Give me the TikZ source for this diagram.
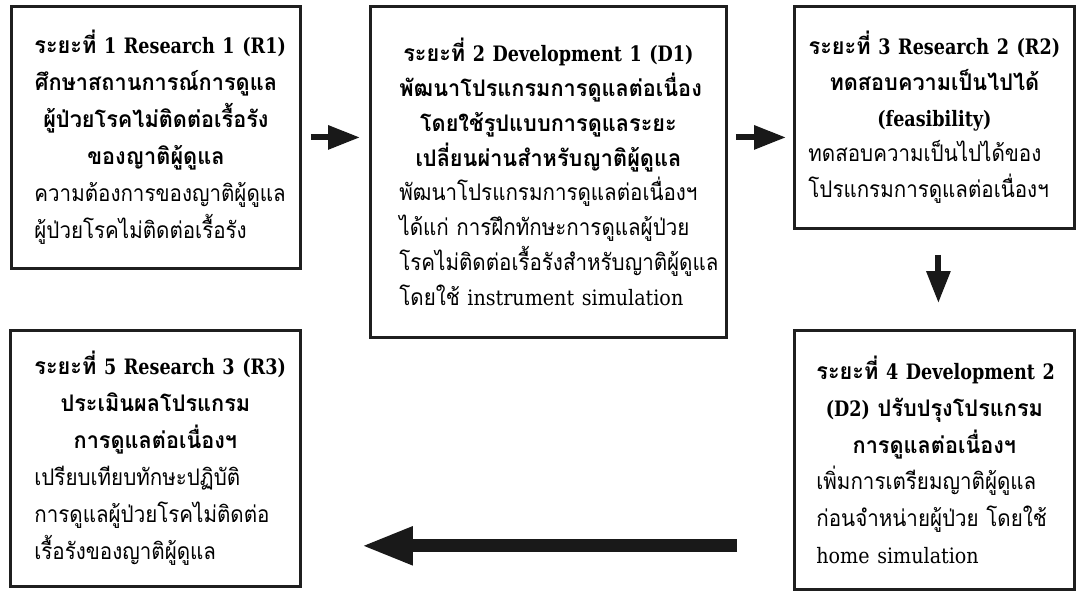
\documentclass[tikz,border=0pt]{standalone}
\usepackage{fontspec}
\setmainfont{Loma}[Script=Thai,UprightFeatures={FakeStretch=0.9},
  BoldFeatures={FakeStretch=0.95}]
\newfontfamily\enfont{DejaVu Serif Condensed}[Scale=0.93,
  BoldFeatures={FakeStretch=0.92}]
\usetikzlibrary{arrows.meta}
\tikzset{
  stage box/.style={
    draw=black!88,line width=1.6pt,anchor=north west,inner sep=0pt,
    align=center,font={\fontsize{13}{21}\selectfont}
  },
  stage arrow/.style={black!90,line width=0.12cm,
    -{Triangle[length=0.64cm,width=0.46cm]}}
}
\newcommand{\en}[1]{{\enfont #1}}
\newcommand{\hd}[1]{\mbox{\bfseries #1}}
\newcommand{\lft}[1]{\makebox[\hsize][l]{#1}}

\begin{document}
\begin{tikzpicture}
  \useasboundingbox (0,0) rectangle (21.52,-11.82);
  % top row
  \node[stage box,minimum width=5.78cm,minimum height=5.24cm,text width=4.86cm]
    (r1) at (0.20,-0.10) {\hd{ระยะที่ \en{1 Research 1 (R1)}}\\
    \hd{ศึกษาสถานการณ์การดูแล}\\
    \hd{ผู้ป่วยโรคไม่ติดต่อเรื้อรัง}\\
    \hd{ของญาติผู้ดูแล}\\
    \lft{ความต้องการของญาติผู้ดูแล}\\
    \lft{ผู้ป่วยโรคไม่ติดต่อเรื้อรัง}};
  \node[stage box,minimum width=7.12cm,minimum height=6.62cm,text width=5.96cm,
    font={\fontsize{13}{19.8}\selectfont}]
    (d1) at (7.38,-0.10) {\hd{ระยะที่ \en{2 Development 1 (D1)}}\\
    \hd{พัฒนาโปรแกรมการดูแลต่อเนื่อง}\\
    \hd{โดยใช้รูปแบบการดูแลระยะ}\\
    \hd{เปลี่ยนผ่านสำหรับญาติผู้ดูแล}\\
    \lft{พัฒนาโปรแกรมการดูแลต่อเนื่องฯ}\\
    \lft{ได้แก่ การฝึกทักษะการดูแลผู้ป่วย}\\
    \lft{โรคไม่ติดต่อเรื้อรังสำหรับญาติผู้ดูแล}\\
    \lft{โดยใช้ \en{instrument simulation}}};
  \node[stage box,minimum width=5.60cm,minimum height=4.44cm,text width=5.04cm,
    font={\fontsize{13}{20.3}\selectfont}]
    (r2) at (15.86,-0.10) {\hd{ระยะที่ \en{3 Research 2 (R2)}}\\
    \hd{ทดสอบความเป็นไปได้}\\
    \hd{\en{(feasibility)}}\\
    \lft{ทดสอบความเป็นไปได้ของ}\\
    \lft{โปรแกรมการดูแลต่อเนื่องฯ}};
  % bottom row
  \node[stage box,minimum width=5.60cm,minimum height=5.18cm,text width=4.72cm]
    (d2) at (15.86,-6.58) {\hd{ระยะที่ \en{4 Development 2}}\\
    \hd{\en{(D2)} ปรับปรุงโปรแกรม}\\
    \hd{การดูแลต่อเนื่องฯ}\\
    \lft{เพิ่มการเตรียมญาติผู้ดูแล}\\
    \lft{ก่อนจำหน่ายผู้ป่วย โดยใช้}\\
    \lft{\en{home simulation}}};
  \node[stage box,minimum width=5.80cm,minimum height=5.12cm,text width=4.84cm]
    (r3) at (0.18,-6.58) {\hd{ระยะที่ \en{5 Research 3 (R3)}}\\
    \hd{ประเมินผลโปรแกรม}\\
    \hd{การดูแลต่อเนื่องฯ}\\
    \lft{เปรียบเทียบทักษะปฏิบัติ}\\
    \lft{การดูแลผู้ป่วยโรคไม่ติดต่อ}\\
    \lft{เรื้อรังของญาติผู้ดูแล}};
  % arrows
  \draw[stage arrow,shorten <=0.18cm,shorten >=0.18cm]
    (r1.east) -- (r1.east -| d1.west);
  \draw[stage arrow,shorten <=0.16cm,shorten >=0.14cm]
    (d1.east |- r1.east) -- (r2.west |- r1.east);
  \draw[stage arrow,shorten <=0.50cm,shorten >=0.52cm]
    ([xshift=0.08cm]r2.south) -- ([xshift=0.08cm]d2.north);
  \coordinate (back) at ([yshift=0.90cm]d2.south west);
  \draw[stage arrow,line width=0.26cm,shorten <=1.12cm,shorten >=1.18cm,
    -{Triangle[length=1.04cm,width=0.70cm]}]
    (back) -- (back -| r3.east);
\end{tikzpicture}
\end{document}
